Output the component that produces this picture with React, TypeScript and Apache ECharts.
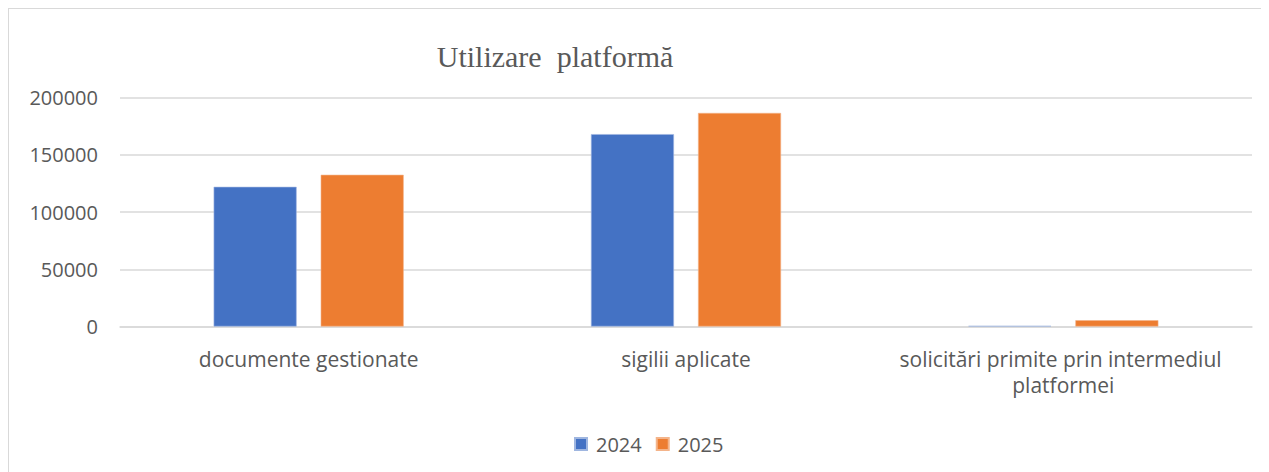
import React, { useEffect, useRef } from "react";
import * as echarts from "echarts";

const categories = [
  "documente gestionate",
  "sigilii aplicate",
  "solicitări primite prin intermediul platformei",
];
const series2024 = [122000, 168000, 500];
const series2025 = [132500, 186500, 5500];
const yTicks = { min: 0, max: 200000, interval: 50000 };
const titleText = "Utilizare  platformă";

export default function App() {
  const ref = useRef<HTMLDivElement>(null);
  useEffect(() => {
    if (!ref.current) return;
    const chart = echarts.init(ref.current, undefined, { renderer: "svg" });
    const textColor = "#595959";
    const font = "'Open Sans', sans-serif";
    chart.setOption({
      animation: false,
      backgroundColor: "#ffffff",
      graphic: [
        {
          type: "rect",
          shape: { x: 0, y: 0, width: 3000, height: 3000 },
          style: { fill: "none", stroke: "#d9d9d9", lineWidth: 2 },
          silent: true,
        },
        {
          type: "text",
          x: 547,
          y: 48,
          style: {
            text: titleText,
            fill: textColor,
            font: "30px 'Liberation Serif', 'Times New Roman', serif",
            textAlign: "center",
            textVerticalAlign: "middle",
          },
        },
      ],
      grid: { left: 112, right: 17, top: 89.5, bottom: 145.5, containLabel: false },
      legend: {
        left: 561,
        top: 421,
        itemWidth: 12,
        itemHeight: 12,
        itemGap: 14,
        icon: "rect",
        textStyle: { color: textColor, fontSize: 20, fontFamily: font, padding: [0, 0, 0, 4] },
        data: ["2024", "2025"],
      },
      xAxis: {
        type: "category",
        data: categories,
        axisLine: { show: true, lineStyle: { color: "#d9d9d9", width: 1.5 } },
        axisTick: { show: false },
        axisLabel: {
          color: textColor,
          fontSize: 21,
          fontFamily: font,
          margin: 19,
          lineHeight: 26,
          width: 365,
          overflow: "break",
          interval: 0,
        },
      },
      yAxis: {
        type: "value",
        min: yTicks.min,
        max: yTicks.max,
        interval: yTicks.interval,
        axisLine: { show: false },
        axisTick: { show: false },
        splitLine: { lineStyle: { color: "#d9d9d9", width: 1.5 } },
        axisLabel: {
          color: textColor,
          fontSize: 20,
          fontFamily: font,
          margin: 22,
          formatter: (v: number) => String(v),
        },
      },
      series: [
        {
          name: "2024",
          type: "bar",
          data: series2024,
          barWidth: 83,
          barGap: "29%",
          itemStyle: { color: "#4472c4", borderColor: "#9fb6e0", borderWidth: 0.6 },
        },
        {
          name: "2025",
          type: "bar",
          data: series2025,
          barWidth: 83,
          itemStyle: { color: "#ed7d31", borderColor: "#f4b48a", borderWidth: 0.6 },
        },
      ],
    });
    return () => chart.dispose();
  }, []);
  return <div ref={ref} style={{ width: 1261, height: 464 }} />;
}
